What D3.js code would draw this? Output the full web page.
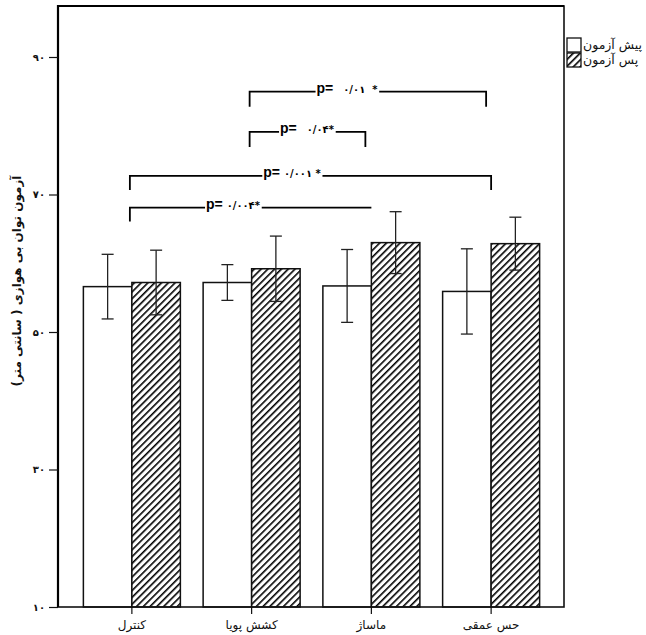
<!DOCTYPE html>
<html>
<head>
<meta charset="utf-8">
<script src="https://cdn.jsdelivr.net/npm/d3@7"></script>
<style>
  body { margin: 0; background: #fff; }
  text { font-family: "DejaVu Sans", sans-serif; }
</style>
</head>
<body>
<svg id="chart" width="646" height="635"></svg>
<script>
// groups and series
const categories = ["کنترل", "کشش پویا", "ماساژ", "حس عمقی"];
const seriesNames = ["پیش آزمون", "پس آزمون"];
const preMean = [56.6, 57.2, 56.7, 55.9];
const preSD = [4.7, 2.6, 5.3, 6.2];
const postMean = [57.2, 59.2, 63.0, 62.85];
const postSD = [4.7, 4.75, 4.5, 3.85];
const yTicks = [10, 30, 50, 70, 90];
const yTickLabels = ["۱۰", "۳۰", "۵۰", "۷۰", "۹۰"];
// significance brackets: from group, to group, level, label
const bracketFrom = [1, 1, 0, 0];
const bracketTo = [3, 2, 3, 2];
const bracketLevel = [84.95, 79.1, 72.7, 68.1];
const bracketLabels = [" ۰/۰۱  *", " ۰/۰۴*", "۰/۰۰۱ *", "۰/۰۰۴*"];

const svg = d3.select("#chart");
const frame = { left: 58, top: 6, right: 564, bottom: 607 };

const y = d3.scaleLinear().domain([10, 90]).range([607, 57]);
const x = d3.scaleBand().domain(categories).range([72, 551])
    .paddingInner(0.19).paddingOuter(0.095);
const xs = d3.scaleBand().domain(["pre", "post"]).range([0, x.bandwidth()]);

// hatch pattern
const defs = svg.append("defs");
const pat = defs.append("pattern")
    .attr("id", "hatch")
    .attr("patternUnits", "userSpaceOnUse")
    .attr("width", 4.8).attr("height", 4.8)
    .attr("patternTransform", "rotate(45)");
pat.append("rect").attr("width", 4.8).attr("height", 4.8).attr("fill", "#fff");
pat.append("line").attr("x1", 0).attr("y1", 0).attr("x2", 0).attr("y2", 4.8)
    .attr("stroke", "#000").attr("stroke-width", 3.2);

var rows = categories.map((c, i) => ({
    cat: c,
    bars: [
        { key: "pre", mean: preMean[i], sd: preSD[i] },
        { key: "post", mean: postMean[i], sd: postSD[i] }
    ]
}));

// bars
const groups = svg.append("g").selectAll("g")
    .data(rows).enter().append("g")
    .attr("transform", d => `translate(${x(d.cat)},0)`);

groups.selectAll("rect")
    .data(d => d.bars).enter().append("rect")
    .attr("x", d => xs(d.key))
    .attr("y", d => y(d.mean))
    .attr("width", xs.bandwidth())
    .attr("height", d => y(10) - y(d.mean))
    .attr("fill", d => d.key == "pre" ? "#fff" : "url(#hatch)")
    .attr("stroke", "#111")
    .attr("stroke-width", 1.5);

// error bars
const eb = groups.selectAll("g.err")
    .data(d => d.bars).enter().append("g").attr("class", "err")
    .attr("stroke", "#222").attr("stroke-width", 1.3);
const cx = d => xs(d.key) + xs.bandwidth() / 2;
eb.append("line")
    .attr("x1", cx).attr("x2", cx)
    .attr("y1", d => y(d.mean - d.sd)).attr("y2", d => y(d.mean + d.sd));
eb.append("line")
    .attr("x1", d => cx(d) - 6).attr("x2", d => cx(d) + 6)
    .attr("y1", d => y(d.mean + d.sd)).attr("y2", d => y(d.mean + d.sd));
eb.append("line")
    .attr("x1", d => cx(d) - 6).attr("x2", d => cx(d) + 6)
    .attr("y1", d => y(d.mean - d.sd)).attr("y2", d => y(d.mean - d.sd));

// frame
svg.append("rect")
    .attr("x", frame.left).attr("y", frame.top)
    .attr("width", frame.right - frame.left).attr("height", frame.bottom - frame.top)
    .attr("fill", "none").attr("stroke", "#111").attr("stroke-width", 1.6);
svg.append("path")
    .attr("d", `M${frame.left},${frame.bottom}V${frame.top}H${frame.right}`)
    .attr("fill", "none").attr("stroke", "#000").attr("stroke-width", 2.2);

// y axis
const yAxis = d3.axisLeft(y).tickValues(yTicks)
    .tickFormat((d, i) => yTickLabels[i]).tickSize(9).tickPadding(4);
const gy = svg.append("g").attr("transform", `translate(${frame.left},0)`).call(yAxis);
gy.select(".domain").remove();
gy.selectAll("line").attr("stroke", "#111").attr("stroke-width", 1.2);
gy.selectAll("text").style("font-family", "DejaVu Sans").style("font-size", "10px")
    .style("font-weight", "bold").attr("fill", "#111");

// x axis
const xAxis = d3.axisBottom(x).tickSize(7).tickPadding(6);
const gx = svg.append("g").attr("transform", `translate(0,${frame.bottom})`).call(xAxis);
gx.select(".domain").remove();
gx.selectAll("line").attr("stroke", "#111").attr("stroke-width", 1.2);
gx.selectAll("text").style("font-family", "DejaVu Sans").style("font-size", "12px")
    .attr("fill", "#111");

// y title
svg.append("text")
    .attr("transform", "translate(21,281) rotate(-90)")
    .attr("text-anchor", "middle")
    .style("font-size", "12px").style("font-weight", "bold")
    .attr("fill", "#111")
    .text("آزمون توان بی هوازی ( سانتی متر)");

// significance brackets
const labelCenters = [347, 307, 292, 233];
const tickLen = [15, 15, 14, 14];
const rightInset = [5, 6, 0, 0];
bracketLabels.forEach((lab, i) => {
    var x0 = x(categories[bracketFrom[i]]) + x.bandwidth() / 2 - 2;
    var x1 = x(categories[bracketTo[i]]) + x.bandwidth() / 2 - rightInset[i];
    var yy = y(bracketLevel[i]);
    var g = svg.append("g");
    var d = `M${x0},${yy + tickLen[i]}V${yy}H${x1}`;
    if (i != 3) d += `V${yy + tickLen[i]}`;
    g.append("path").attr("d", d).attr("fill", "none")
        .attr("stroke", "#000").attr("stroke-width", 1.8);
    var bg = g.append("rect").attr("fill", "#fff");
    var t = g.append("text")
        .attr("x", labelCenters[i]).attr("y", yy + 1)
        .attr("text-anchor", "middle")
        .attr("fill", "#000")
        .style("white-space", "pre");
    t.append("tspan").style("font-family", "Liberation Sans")
        .style("font-weight", "bold").style("font-size", "14px").text("p= ");
    t.append("tspan").style("font-size", "10px").style("font-weight", "bold")
        .style("letter-spacing", "2.6px").text(lab);
    var bb = t.node().getBBox();
    bg.attr("x", bb.x - 1).attr("y", bb.y).attr("width", bb.width + 2).attr("height", bb.height - 2);
});

// legend
const legend = svg.append("g").attr("transform", "translate(567,38)");
seriesNames.forEach((s, i) => {
    legend.append("rect")
        .attr("x", 0).attr("y", i * 15)
        .attr("width", 14).attr("height", 14)
        .attr("fill", i == 0 ? "#fff" : "url(#hatch)")
        .attr("stroke", "#111").attr("stroke-width", 1.3);
    legend.append("text")
        .attr("x", 16).attr("y", i * 15 + 11)
        .style("font-size", "12.5px").attr("fill", "#111")
        .text(s);
});
</script>
</body>
</html>
